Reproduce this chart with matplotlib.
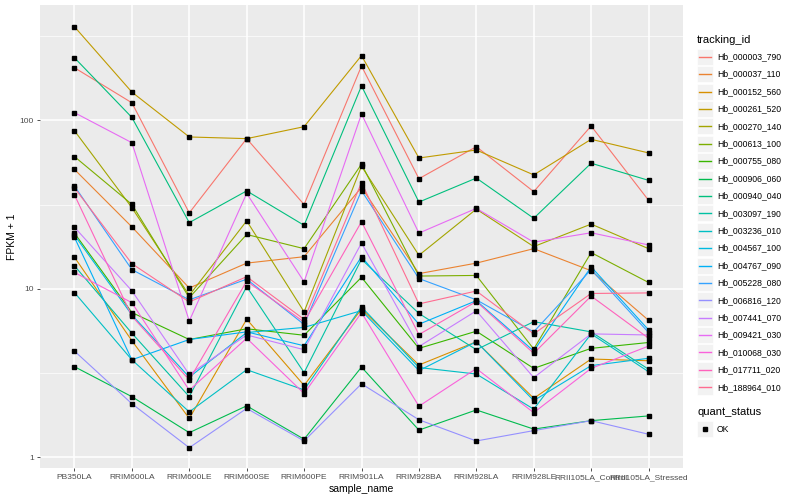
import numpy as np
import matplotlib.pyplot as plt
from matplotlib.lines import Line2D
from matplotlib.patches import Rectangle
from matplotlib.ticker import NullFormatter

plt.rcParams['font.family'] = ['Liberation Sans', 'DejaVu Sans']

samples = ["PB350LA", "RRIM600LA", "RRIM600LE", "RRIM600SE", "RRIM600PE",
           "RRIM901LA", "RRIM928BA", "RRIM928LA", "RRIM928LE",
           "RRII105LA_Control", "RRII105LA_Stressed"]

# FPKM + 1 per sample
hb_000003_790 = [205, 127, 28.2, 77.8, 31.6, 210, 45.0, 69.7, 37.7, 92.5, 33.5]
hb_000037_110 = [51.1, 23.3, 10.1, 14.2, 15.5, 40.0, 12.3, 14.2, 17.3, 12.8, 6.5]
hb_000152_560 = [15.4, 4.92, 1.70, 6.6, 2.67, 7.58, 3.53, 4.85, 2.24, 3.83, 3.74]
hb_000261_520 = [359, 147, 79.6, 77.8, 91.6, 242, 59.7, 66.6, 47.4, 77.1, 64.0]
hb_000270_140 = [86.7, 30.3, 9.14, 25.3, 7.3, 53.4, 15.8, 29.7, 17.8, 24.2, 17.3]
hb_000613_100 = [60.9, 31.7, 8.85, 21.0, 17.3, 54.9, 11.9, 12.0, 4.39, 16.4, 10.9]
hb_000755_080 = [21.4, 7.23, 5.0, 5.79, 5.30, 11.7, 4.43, 5.6, 3.37, 4.43, 4.8]
hb_000906_060 = [3.45, 2.29, 1.40, 2.02, 1.28, 3.43, 1.45, 1.91, 1.47, 1.65, 1.76]
hb_000940_040 = [235, 104, 24.7, 38.1, 23.8, 160, 32.7, 45.4, 26.2, 55.6, 44.0]
hb_003097_190 = [13.7, 5.45, 2.29, 10.3, 3.18, 14.97, 7.14, 4.35, 6.38, 5.55, 3.33]
hb_003236_010 = [9.5, 3.79, 1.86, 3.31, 2.51, 7.81, 3.41, 3.12, 1.93, 5.4, 3.22]
hb_004567_100 = [20.8, 7.0, 2.99, 5.5, 5.9, 7.42, 3.27, 4.85, 2.17, 3.5, 3.87]
hb_004767_090 = [20.2, 3.79, 5.0, 5.55, 4.59, 15.5, 6.16, 8.5, 4.27, 13.5, 5.7]
hb_005228_080 = [40.7, 13.0, 8.6, 11.4, 6.14, 38.2, 11.5, 8.6, 5.55, 13.0, 5.5]
hb_006816_120 = [4.27, 2.08, 1.14, 1.95, 1.25, 2.73, 1.67, 1.25, 1.44, 1.65, 1.37]
hb_007441_070 = [23.2, 9.73, 3.10, 5.32, 4.35, 18.7, 4.54, 7.4, 2.97, 5.4, 5.32]
hb_009421_030 = [111, 73.6, 6.44, 36.8, 11.0, 109, 21.4, 30.0, 18.9, 21.5, 18.2]
hb_010068_030 = [12.5, 8.27, 2.50, 5.09, 2.39, 7.22, 2.01, 3.36, 1.84, 3.37, 4.57]
hb_017711_020 = [36.1, 6.88, 2.88, 11.1, 6.35, 25.0, 5.35, 8.4, 4.14, 9.05, 5.09]
hb_188964_010 = [39.7, 14.1, 8.35, 11.8, 6.58, 42.7, 8.13, 9.7, 5.4, 9.38, 9.45]

tracking_ids = ["Hb_000003_790", "Hb_000037_110", "Hb_000152_560", "Hb_000261_520",
                "Hb_000270_140", "Hb_000613_100", "Hb_000755_080", "Hb_000906_060",
                "Hb_000940_040", "Hb_003097_190", "Hb_003236_010", "Hb_004567_100",
                "Hb_004767_090", "Hb_005228_080", "Hb_006816_120", "Hb_007441_070",
                "Hb_009421_030", "Hb_010068_030", "Hb_017711_020", "Hb_188964_010"]
series = [hb_000003_790, hb_000037_110, hb_000152_560, hb_000261_520,
          hb_000270_140, hb_000613_100, hb_000755_080, hb_000906_060,
          hb_000940_040, hb_003097_190, hb_003236_010, hb_004567_100,
          hb_004767_090, hb_005228_080, hb_006816_120, hb_007441_070,
          hb_009421_030, hb_010068_030, hb_017711_020, hb_188964_010]

# ggplot default hue palette, 20 levels
colors = ["#F8766D", "#EA8331", "#D89000", "#C09B00", "#A3A500", "#7CAE00",
          "#39B600", "#00BB4E", "#00BF7D", "#00C1A3", "#00BFC4", "#00BAE0",
          "#00B0F6", "#35A2FF", "#9590FF", "#C77CFF", "#E76BF3", "#FA62DB",
          "#FF62BC", "#FF6C91"]

W, H = 800, 500
fig = plt.figure(figsize=(8, 5), dpi=100)
ax = fig.add_axes([40 / W, 32 / H, 643 / W, 463 / H])
ax.set_facecolor('#EBEBEB')

x = np.arange(len(samples))
for vals, c in zip(series, colors):
    ax.plot(x, vals, color=c, lw=0.8, zorder=3)
for vals in series:
    ax.plot(x, vals, ls='none', marker='s', ms=2.3, color='black', zorder=4)

ax.set_yscale('log')
ax.set_ylim(10 ** -0.0635, 10 ** 2.684)
ax.set_xlim(-0.6, 10.6)
ax.set_yticks([1, 10, 100])
ax.set_yticklabels(['1', '10', '100'])
ax.set_yticks([10 ** 0.5, 10 ** 1.5, 10 ** 2.5], minor=True)
ax.yaxis.set_minor_formatter(NullFormatter())
ax.set_xticks(x)
ax.set_xticklabels(samples)
ax.grid(which='major', color='white', lw=1.1)
ax.grid(which='minor', axis='y', color='white', lw=0.5)
ax.set_axisbelow(True)
for s in ax.spines.values():
    s.set_visible(False)
ax.tick_params(which='major', length=2.5, width=0.6, color='#333333',
               labelsize=6, labelcolor='#4D4D4D', pad=2)
ax.tick_params(which='minor', length=0)
ax.set_xlabel("sample_name", fontsize=7.5, labelpad=2)

# legends, drawn by hand in pixel positions
def fx(px):
    return px / W

def fy(py):
    return 1 - py / H

fig.text(fx(12), fy(236.5), "FPKM + 1", fontsize=7.5, rotation=90,
         ha='center', va='center')

fig.text(fx(697), fy(40), "tracking_id", fontsize=8, va='center', ha='left')
for i, (name, c) in enumerate(zip(tracking_ids, colors)):
    yc = 56.7 + 17.4 * i
    fig.patches.append(Rectangle((fx(697), fy(yc + 8)), 16 / W, 16 / H,
                                 transform=fig.transFigure, facecolor='#F2F2F2',
                                 edgecolor='white', lw=0.5, zorder=1))
    fig.lines.append(Line2D([fx(699), fx(711)], [fy(yc), fy(yc)],
                            transform=fig.transFigure, color=c, lw=1.0, zorder=3))
    fig.text(fx(717), fy(yc), name, fontsize=6.2, va='center', ha='left')

fig.text(fx(697), fy(412), "quant_status", fontsize=8, va='center', ha='left')
fig.patches.append(Rectangle((fx(697), fy(429 + 8)), 16 / W, 16 / H,
                             transform=fig.transFigure, facecolor='#F2F2F2',
                             edgecolor='white', lw=0.5, zorder=1))
fig.lines.append(Line2D([fx(705)], [fy(429)], transform=fig.transFigure,
                        ls='none', marker='s', ms=2.3, color='black', zorder=3))
fig.text(fx(717), fy(429), "OK", fontsize=6.2, va='center', ha='left')

fig.savefig("out.png", dpi=100)
